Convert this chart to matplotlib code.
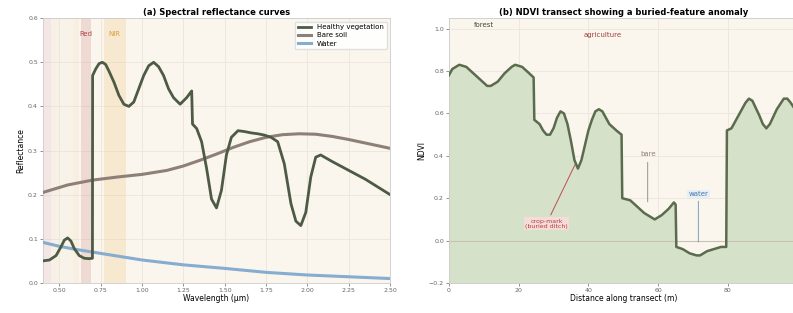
import matplotlib
matplotlib.use("Agg")
import matplotlib.pyplot as plt

# (a) spectral reflectance
veg_wl = [0.40, 0.44, 0.48, 0.51, 0.53, 0.55, 0.57, 0.59, 0.62, 0.65, 0.68, 0.70,
          0.701, 0.72, 0.74, 0.76, 0.78, 0.80, 0.83, 0.86, 0.89, 0.92, 0.95, 0.98,
          1.01, 1.04, 1.07, 1.10, 1.13, 1.16, 1.19, 1.23, 1.27, 1.30, 1.305, 1.33,
          1.36, 1.39, 1.42, 1.45, 1.48, 1.51, 1.54, 1.58, 1.62, 1.66, 1.70, 1.74,
          1.78, 1.82, 1.86, 1.90, 1.93, 1.96, 1.99, 2.02, 2.05, 2.08, 2.15, 2.25,
          2.35, 2.50]
veg_refl = [0.050, 0.052, 0.062, 0.082, 0.097, 0.102, 0.095, 0.078, 0.062, 0.056,
            0.055, 0.056, 0.47, 0.485, 0.497, 0.50, 0.495, 0.48, 0.455, 0.425,
            0.405, 0.40, 0.41, 0.44, 0.47, 0.492, 0.50, 0.49, 0.47, 0.44, 0.42,
            0.405, 0.42, 0.435, 0.36, 0.35, 0.32, 0.26, 0.19, 0.17, 0.21, 0.29,
            0.33, 0.345, 0.343, 0.34, 0.338, 0.335, 0.33, 0.32, 0.27, 0.18, 0.14,
            0.13, 0.16, 0.24, 0.285, 0.29, 0.275, 0.255, 0.235, 0.20]

soil_wl = [0.40, 0.55, 0.70, 0.85, 1.00, 1.15, 1.25, 1.35, 1.45, 1.55, 1.65, 1.75,
           1.85, 1.95, 2.05, 2.15, 2.25, 2.35, 2.50]
soil_refl = [0.205, 0.222, 0.233, 0.240, 0.246, 0.255, 0.265, 0.278, 0.292, 0.307,
             0.320, 0.330, 0.336, 0.338, 0.337, 0.332, 0.325, 0.317, 0.305]

water_wl = [0.40, 0.50, 0.60, 0.75, 0.90, 1.00, 1.25, 1.50, 1.75, 2.00, 2.25, 2.50]
water_refl = [0.092, 0.083, 0.076, 0.067, 0.058, 0.052, 0.041, 0.033, 0.024, 0.018,
              0.014, 0.010]

# (b) NDVI transect
dist = [0, 1, 3, 5, 7, 9, 11, 12, 14, 16, 18, 19, 21, 23, 24.3, 24.5, 26, 27, 28,
        29, 30, 31, 32, 33, 34, 35, 36, 37, 38, 39, 40, 41, 42, 43, 44, 45, 46, 48,
        49.5, 49.7, 52, 54, 56, 58, 59, 61, 63, 64.5, 65, 65.2, 67, 69, 71, 72, 74,
        76, 78, 79.5, 79.7, 81, 83, 85, 86, 87, 89, 90, 91, 92, 94, 96, 97, 98, 100]
ndvi = [0.78, 0.81, 0.83, 0.82, 0.79, 0.76, 0.73, 0.73, 0.75, 0.79, 0.82, 0.83,
        0.82, 0.79, 0.77, 0.57, 0.55, 0.52, 0.50, 0.50, 0.53, 0.58, 0.61, 0.60,
        0.55, 0.47, 0.38, 0.34, 0.38, 0.45, 0.52, 0.57, 0.61, 0.62, 0.61, 0.58,
        0.55, 0.52, 0.50, 0.20, 0.19, 0.16, 0.13, 0.11, 0.10, 0.12, 0.15, 0.18,
        0.17, -0.03, -0.04, -0.06, -0.07, -0.07, -0.05, -0.04, -0.03, -0.03, 0.52,
        0.53, 0.59, 0.65, 0.67, 0.66, 0.59, 0.55, 0.53, 0.55, 0.62, 0.67, 0.67,
        0.65, 0.60]

bg = "#faf6ee"
veg_col = "#4d5a44"
soil_col = "#8e8077"
water_col = "#86acd0"
grid_col = "#ebe5da"

plt.rcParams["font.family"] = "DejaVu Sans"
fig = plt.figure(figsize=(7.93, 3.13), dpi=100)

# ---- left panel ----
ax1 = fig.add_axes([0.054, 0.096, 0.438, 0.846])
ax1.set_facecolor(bg)
vis_bands = [(0.40, 0.45, "#e0b8c8"), (0.45, 0.50, "#f0e0d0"), (0.50, 0.57, "#f4ecd8"),
             (0.57, 0.59, "#f6e8c0"), (0.59, 0.62, "#f4dcc0")]
for lo, hi, c in vis_bands:
    ax1.axvspan(lo, hi, color=c, alpha=0.25, lw=0)
ax1.axvspan(0.63, 0.69, color="#d9a8a0", alpha=0.35, lw=0)
ax1.axvspan(0.77, 0.90, color="#f2cf9a", alpha=0.35, lw=0)
ax1.text(0.66, 0.565, "Red", color="#b04848", fontsize=5, ha="center", va="center")
ax1.text(0.835, 0.565, "NIR", color="#d8a040", fontsize=5, ha="center", va="center")

ax1.plot(water_wl, water_refl, color=water_col, lw=2.2, label="Water", zorder=3)
ax1.plot(soil_wl, soil_refl, color=soil_col, lw=2.2, label="Bare soil", zorder=3)
ax1.plot(veg_wl, veg_refl, color=veg_col, lw=2.0, label="Healthy vegetation", zorder=4)

ax1.set_xlim(0.4, 2.5)
ax1.set_ylim(0, 0.6)
ax1.set_xticks([0.5, 0.75, 1.0, 1.25, 1.5, 1.75, 2.0, 2.25, 2.5])
ax1.set_xlabel("Wavelength (µm)", fontsize=5.5, labelpad=1)
ax1.set_ylabel("Reflectance", fontsize=5.5, labelpad=2)
ax1.set_title("(a) Spectral reflectance curves", fontsize=6, fontweight="bold", pad=2)
ax1.grid(True, color=grid_col, lw=0.6)
ax1.set_axisbelow(True)
handles, labels = ax1.get_legend_handles_labels()
order = [2, 1, 0]
ax1.legend([handles[i] for i in order], [labels[i] for i in order], loc="upper right",
           fontsize=5, frameon=True, framealpha=0.9, edgecolor="#dddddd",
           handlelength=2, borderpad=0.4, labelspacing=0.3)

# ---- right panel ----
ax2 = fig.add_axes([0.566, 0.096, 0.44, 0.846])
ax2.set_facecolor(bg)
ax2.fill_between(dist, -0.2, ndvi, color="#d6e1c9", lw=0, zorder=1)
ax2.plot(dist, ndvi, color="#5b6b4d", lw=1.8, zorder=3)
ax2.axhline(0, color="#c8c2b4", lw=0.8, zorder=2)

ax2.text(10, 1.02, "forest", fontsize=5, color="#3e4a36", ha="center", va="center")
ax2.text(44, 0.97, "agriculture", fontsize=5, color="#a04040", ha="center", va="center")
ax2.annotate("bare", xy=(57, 0.17), xytext=(57, 0.41), fontsize=5, color="#8e8077",
             ha="center", va="center",
             arrowprops=dict(arrowstyle="-", color="#8e8077", lw=0.6))
ax2.annotate("water", xy=(71.5, -0.02), xytext=(71.5, 0.22), fontsize=5, color="#4a78a8",
             ha="center", va="center",
             bbox=dict(boxstyle="square,pad=0.2", fc="#e6eef6", ec="none"),
             arrowprops=dict(arrowstyle="-", color="#6a8fb8", lw=0.6))
ax2.annotate("crop-mark\n(buried ditch)", xy=(36.5, 0.37), xytext=(28, 0.08),
             fontsize=4.5, color="#b04040", ha="center", va="center", linespacing=1.0,
             bbox=dict(boxstyle="square,pad=0.2", fc="#f6dcd8", ec="none"),
             arrowprops=dict(arrowstyle="-", color="#b85050", lw=0.7))

ax2.set_xlim(0, 100)
ax2.set_ylim(-0.2, 1.05)
ax2.set_xticks([0, 20, 40, 60, 80, 100])
ax2.set_yticks([-0.2, 0.0, 0.2, 0.4, 0.6, 0.8, 1.0])
ax2.set_xlabel("Distance along transect (m)", fontsize=5.5, labelpad=1)
ax2.set_ylabel("NDVI", fontsize=5.5, labelpad=2)
ax2.set_title("(b) NDVI transect showing a buried-feature anomaly", fontsize=6,
              fontweight="bold", pad=2)
ax2.grid(True, color=grid_col, lw=0.6)
ax2.set_axisbelow(True)

for ax in (ax1, ax2):
    ax.tick_params(labelsize=4.5, length=2, width=0.5, colors="#666666", pad=1.5)
    for s in ax.spines.values():
        s.set_color("#cccccc")
        s.set_linewidth(0.6)

fig.savefig("out.png", dpi=100)
